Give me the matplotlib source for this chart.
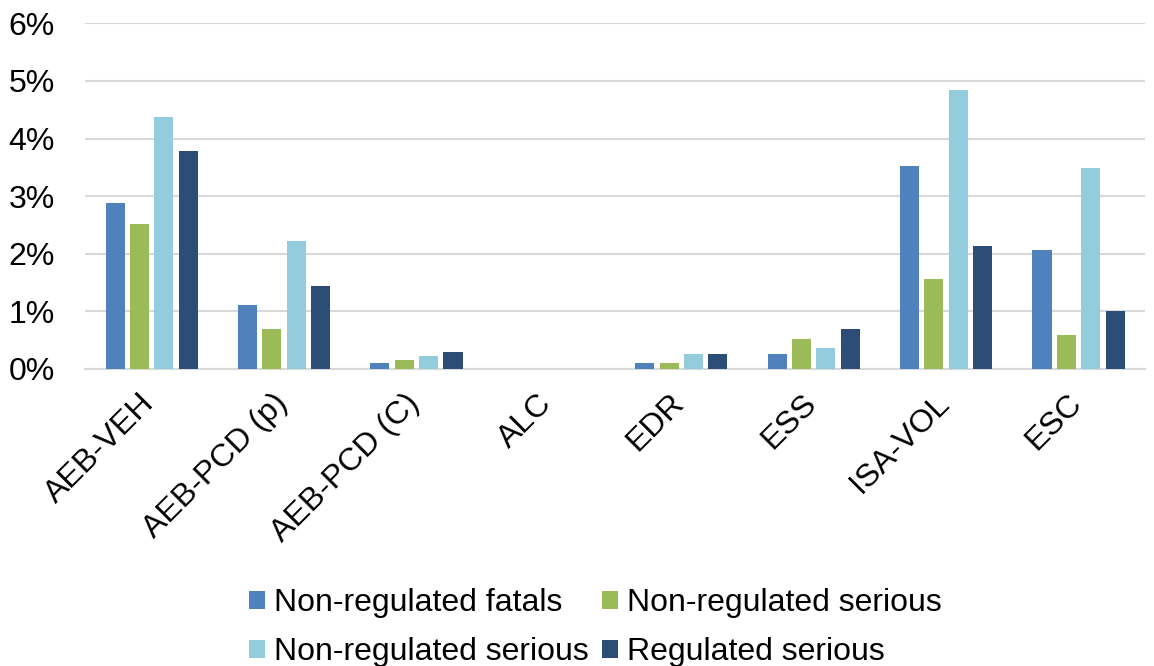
import numpy as np
import matplotlib.pyplot as plt
import matplotlib.transforms as mtrans
from matplotlib.ticker import PercentFormatter

plt.rcParams['font.family'] = ['Liberation Sans', 'DejaVu Sans']

categories = ['AEB-VEH', 'AEB-PCD (p)', 'AEB-PCD (C)', 'ALC', 'EDR', 'ESS', 'ISA-VOL', 'ESC']
nonreg_fatals = [2.88, 1.11, 0.11, 0.0, 0.11, 0.26, 3.52, 2.07]
nonreg_serious = [2.51, 0.70, 0.15, 0.0, 0.11, 0.52, 1.56, 0.59]
nonreg_serious2 = [4.37, 2.22, 0.22, 0.0, 0.26, 0.37, 4.85, 3.49]
reg_serious = [3.78, 1.44, 0.30, 0.0, 0.26, 0.70, 2.14, 1.00]

series = [
    ('Non-regulated fatals', nonreg_fatals, '#4F81BD'),
    ('Non-regulated serious', nonreg_serious, '#9BBB59'),
    ('Non-regulated serious', nonreg_serious2, '#93CDDD'),
    ('Regulated serious', reg_serious, '#2C4D75'),
]

fig = plt.figure(figsize=(11.54, 6.66), dpi=100)
ax = fig.add_axes([0.074, 0.446, 0.918, 0.519])

x = np.arange(len(categories))
step = 0.184
width = 0.144
handles = []
for i, (name, vals, col) in enumerate(series):
    b = ax.bar(x + (i - 1.5) * step, vals, width, color=col, label=name, zorder=3)
    handles.append(b)

ax.set_ylim(0, 6)
ax.set_xlim(-0.5, len(categories) - 0.5)
ax.yaxis.set_major_formatter(PercentFormatter(decimals=0))
ax.set_yticks(range(0, 7))
ax.grid(axis='y', color='#D9D9D9', linewidth=1.5, zorder=0)
for s in ['top', 'right', 'left']:
    ax.spines[s].set_visible(False)
ax.spines['bottom'].set_color('#D9D9D9')
ax.spines['bottom'].set_linewidth(1.5)
ax.tick_params(length=0, labelsize=23)
ax.tick_params(axis='y', pad=22)
ax.tick_params(axis='x', pad=14)
ax.set_xticks(x)
ax.set_xticklabels(categories, rotation=45, ha='right', rotation_mode='anchor')
shift = mtrans.ScaledTranslation(-0.12, 0, fig.dpi_scale_trans)
for lab in ax.get_xticklabels():
    lab.set_transform(lab.get_transform() + shift)

order = [0, 2, 1, 3]
fig.legend([handles[i] for i in order], [series[i][0] for i in order],
           ncol=2, loc='lower center', bbox_to_anchor=(0.516, -0.045),
           frameon=False, fontsize=23, handlelength=0.5, handleheight=0.5,
           handletextpad=0.3, columnspacing=0.4, labelspacing=0.6)

fig.savefig('out.png', dpi=100)
